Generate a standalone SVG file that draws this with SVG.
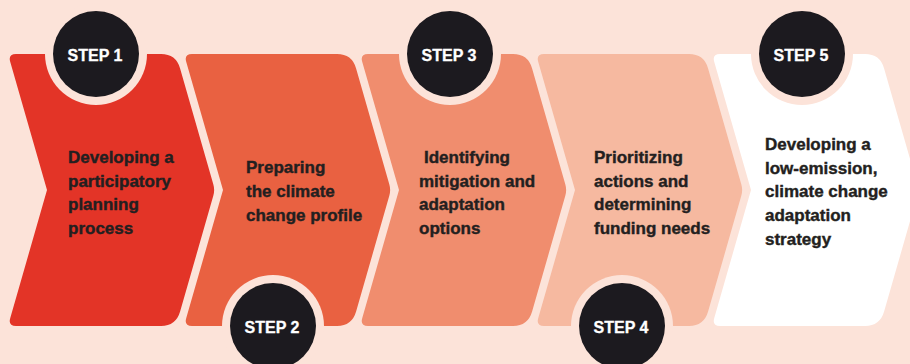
<svg xmlns="http://www.w3.org/2000/svg" width="910" height="364" viewBox="0 0 910 364">
<defs>
<style>
.bg{fill:#FCE3D9}
.halo{fill:#FCE3D9}
.dot{fill:#1C1A1F}
.step{font-family:"Liberation Sans",Arial,sans-serif;font-weight:bold;font-size:16px;fill:#FFFFFF;stroke:#FFFFFF;stroke-width:0.3;text-anchor:middle}
.body{font-family:"Liberation Sans",Arial,sans-serif;font-weight:bold;font-size:17px;fill:#231F20;stroke:#231F20;stroke-width:0.4}
</style>
<path id="chev" d="M8,54 H153 Q168,54 172.1,68.4 L205.3,184.2 Q207,190 205.3,195.8 L172.1,311.6 Q168,326 153,326 H8 Q0,326 2.2,318.3 L39,190 L2.2,61.7 Q0,54 8,54 Z"/>
</defs>
<rect class="bg" x="0" y="0" width="910" height="364"/>
<g id="connectors"></g>
<g id="shape1"><use href="#chev" x="8" fill="#E33427"/></g>
<g id="shape2"><use href="#chev" x="184" fill="#E96141"/></g>
<g id="shape3"><use href="#chev" x="360" fill="#F08D6E"/></g>
<g id="shape4"><use href="#chev" x="536" fill="#F6B9A0"/></g>
<g id="shape5"><use href="#chev" x="712" fill="#FFFFFF"/></g>
<g id="step1"><circle class="halo" cx="96" cy="54" r="51"/><circle class="dot" cx="96" cy="54" r="43"/><text class="step" x="95" y="60.5">STEP 1</text></g>
<g id="step2"><circle class="halo" cx="273" cy="326" r="51"/><circle class="dot" cx="273" cy="326" r="43"/><text class="step" x="272" y="332.5">STEP 2</text></g>
<g id="step3"><circle class="halo" cx="450" cy="54" r="51"/><circle class="dot" cx="450" cy="54" r="43"/><text class="step" x="449" y="60.5">STEP 3</text></g>
<g id="step4"><circle class="halo" cx="622" cy="326" r="51"/><circle class="dot" cx="622" cy="326" r="43"/><text class="step" x="621" y="332.5">STEP 4</text></g>
<g id="step5"><circle class="halo" cx="802" cy="54" r="51"/><circle class="dot" cx="802" cy="54" r="43"/><text class="step" x="801" y="60.5">STEP 5</text></g>
<g id="text1" class="body"><text x="68" y="163">Developing a</text><text x="68" y="186.5">participatory</text><text x="68" y="210">planning</text><text x="68" y="233.5">process</text></g>
<g id="text2" class="body"><text x="246" y="173">Preparing</text><text x="246" y="197">the climate</text><text x="246" y="221">change profile</text></g>
<g id="text3" class="body"><text x="424" y="163">Identifying</text><text x="419" y="186.5">mitigation and</text><text x="419" y="210">adaptation</text><text x="419" y="233.5">options</text></g>
<g id="text4" class="body"><text x="594" y="163">Prioritizing</text><text x="594" y="186.5">actions and</text><text x="594" y="210">determining</text><text x="594" y="233.5">funding needs</text></g>
<g id="text5" class="body"><text x="765" y="149.5">Developing a</text><text x="765" y="173.5">low-emission,</text><text x="765" y="197">climate change</text><text x="765" y="221">adaptation</text><text x="765" y="245">strategy</text></g>
</svg>
